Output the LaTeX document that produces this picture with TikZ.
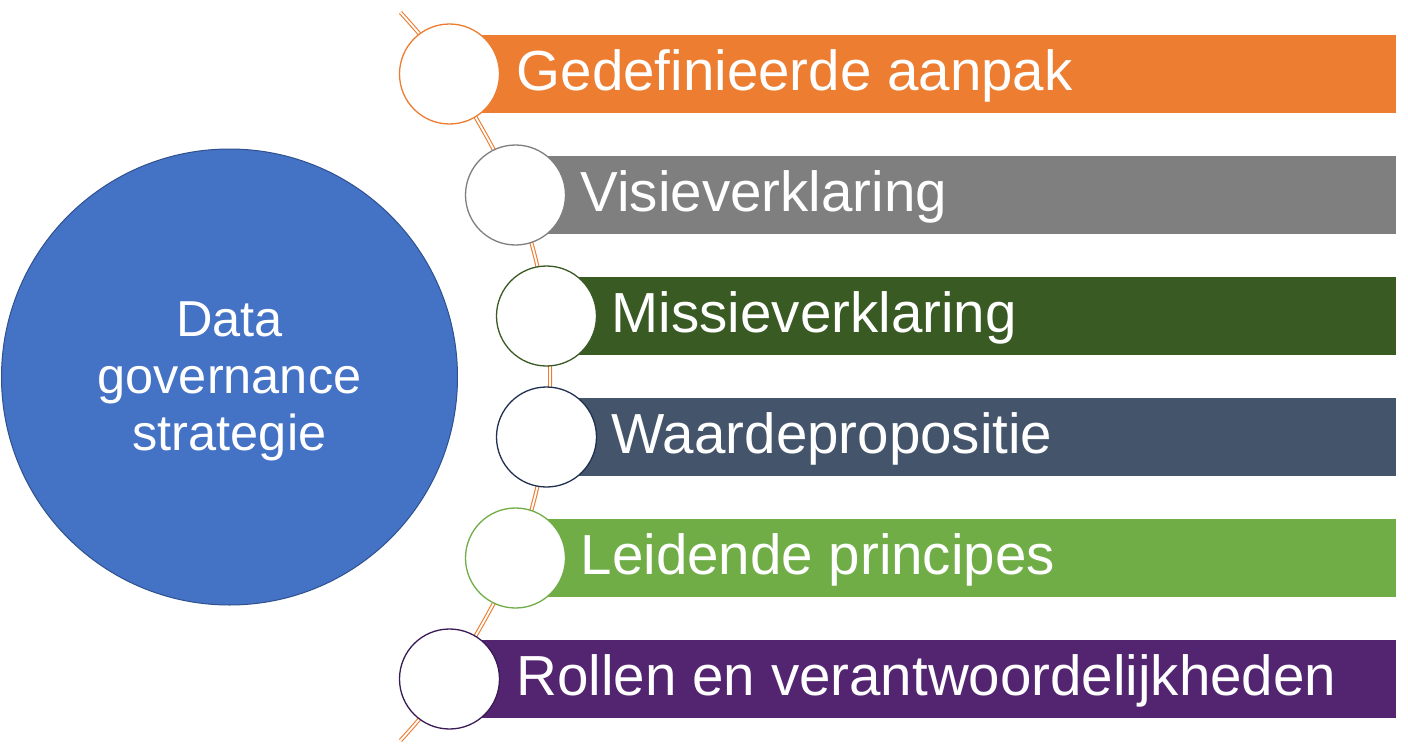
\documentclass[tikz,border=0pt]{standalone}
\usepackage{fontspec}
\setmainfont{Liberation Sans}
\usetikzlibrary{calc}
\definecolor{bigblue}{HTML}{4472C4}
\definecolor{bigblueline}{HTML}{2F528F}
\definecolor{orangeC}{HTML}{ED7D31}
\definecolor{grayC}{HTML}{7F7F7F}
\definecolor{dgreenC}{HTML}{3A5A24}
\definecolor{navyC}{HTML}{44546A}
\definecolor{navyLine}{HTML}{1F3050}
\definecolor{lgreenC}{HTML}{70AD47}
\definecolor{purpleC}{HTML}{532571}
\definecolor{purpleLine}{HTML}{3A1A55}
\tikzset{
  bubble/.style={circle, fill=white, line width=1.3pt, minimum size=100pt, inner sep=0pt},
  bartext/.style={anchor=base west, text=white, inner sep=0pt, font=\fontsize{56.5}{60}\selectfont},
  arcline/.style={draw=orangeC, line width=1.1pt, double=white, double distance=1.8pt},
}
\begin{document}
\begin{tikzpicture}[x=1pt,y=-1pt]
\useasboundingbox (0,0) rectangle (1408,752);
\fill[white] (0,0) rectangle (1408,752);

% big circle
\node[circle, fill=bigblue, draw=bigblueline, line width=1pt, minimum size=456pt, inner sep=0pt] (main) at (229.5,377) {};
\node[text=white, align=center, font=\fontsize{50.5}{57}\selectfont] (maintext) at ($(main.center)+(0,4)$) {Data\\governance\\strategie};

% centres
\coordinate (s) at (400.5,12.5);
\coordinate (p1) at (449.5,74);
\coordinate (p2) at (515.5,195);
\coordinate (p3) at (546.5,316);
\coordinate (p4) at (546.5,437);
\coordinate (p5) at (515.5,558);
\coordinate (p6) at (449.5,679);
\coordinate (e) at (400.5,740.5);

% arc
\draw[arcline] plot[smooth, tension=0.55] coordinates {(s) (p1) (p2) (p3) (p4) (p5) (p6) (e)};

% bars
\fill[orangeC] ($(p1)+(0,-39)$) rectangle (1396,113);
\fill[grayC]   ($(p2)+(0,-39)$) rectangle (1396,234);
\fill[dgreenC] ($(p3)+(0,-39)$) rectangle (1396,355);
\fill[navyC]   ($(p4)+(0,-39)$) rectangle (1396,476);
\fill[lgreenC] ($(p5)+(0,-39)$) rectangle (1396,597);
\fill[purpleC] ($(p6)+(0,-39)$) rectangle (1396,718);

% bubbles
\node[bubble, draw=orangeC] (c1) at (p1) {};
\node[bubble, draw=grayC]   (c2) at (p2) {};
\node[bubble, draw=dgreenC] (c3) at (p3) {};
\node[bubble, draw=navyLine] (c4) at (p4) {};
\node[bubble, draw=lgreenC] (c5) at (p5) {};
\node[bubble, draw=purpleLine] (c6) at (p6) {};

% texts
\node[bartext] (t1) at ($(p1)+(67,16)$) {Gedefinieerde aanpak};
\node[bartext] (t2) at ($(p2)+(65,16)$) {Visieverklaring};
\node[bartext] (t3) at ($(p3)+(65,16)$) {Missieverklaring};
\node[bartext] (t4) at ($(p4)+(65,16)$) {Waardepropositie};
\node[bartext] (t5) at ($(p5)+(65,16)$) {Leidende principes};
\node[bartext] (t6) at ($(p6)+(67,16)$) {Rollen en verantwoordelijkheden};
\end{tikzpicture}
\end{document}
